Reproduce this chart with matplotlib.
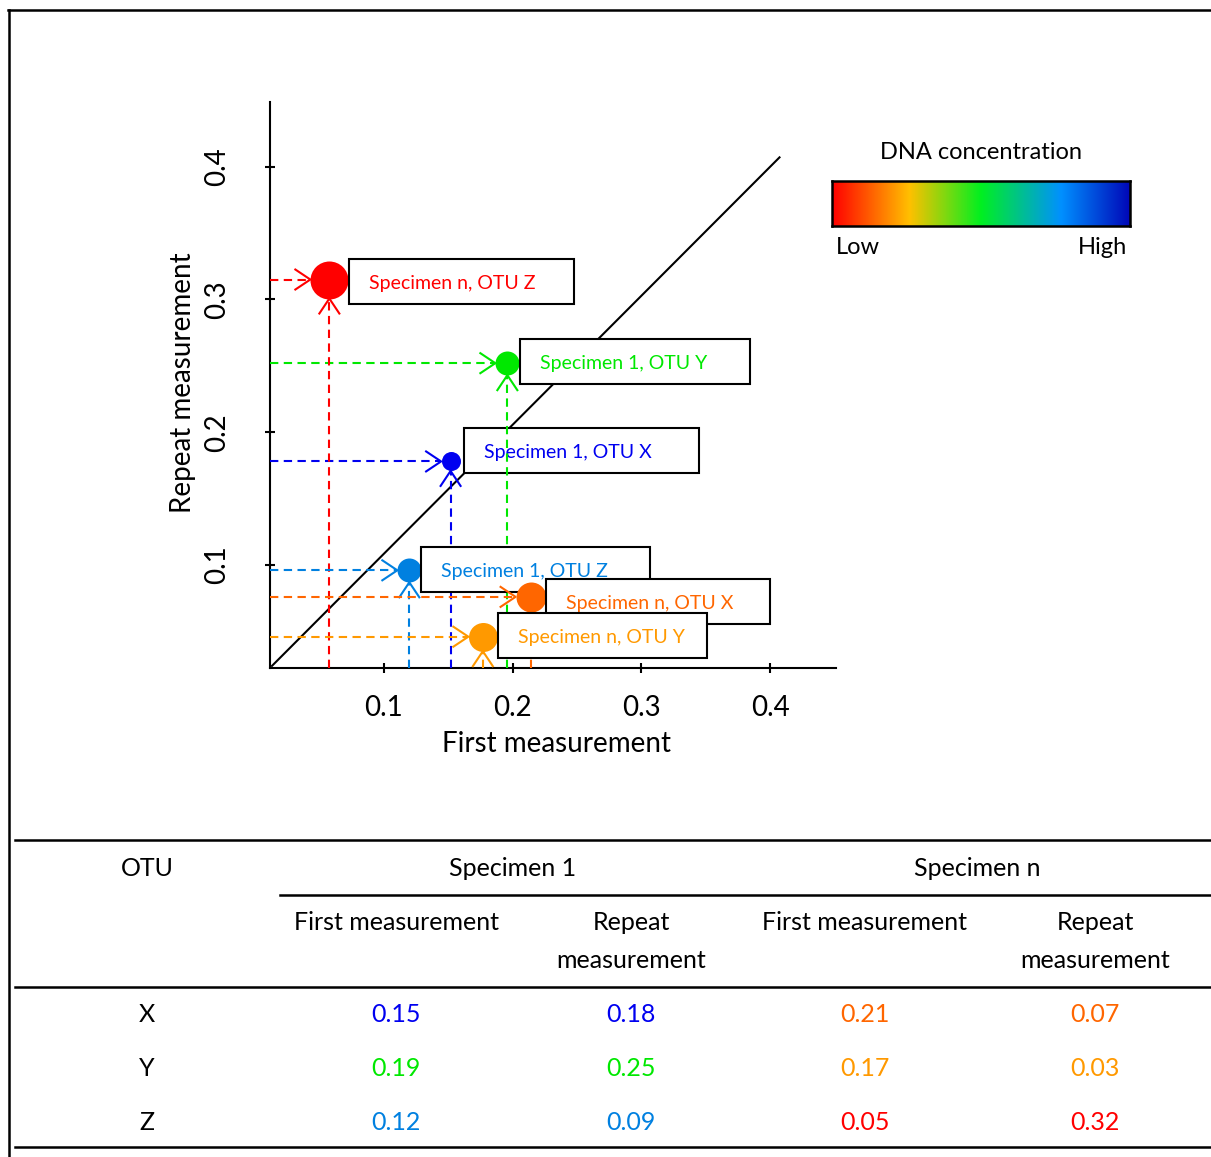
import matplotlib
matplotlib.use('Agg')
import matplotlib.pyplot as plt
import numpy as np
from matplotlib.colors import LinearSegmentedColormap
from matplotlib.lines import Line2D
from matplotlib.patches import Rectangle

plt.rcParams['font.family'] = ['Lato', 'DejaVu Sans']

# table values
otus = ['X', 'Y', 'Z']
spec1_first = [0.15, 0.19, 0.12]
spec1_repeat = [0.18, 0.25, 0.09]
specn_first = [0.21, 0.17, 0.05]
specn_repeat = [0.07, 0.03, 0.32]
spec1_colors = ['#0000F0', '#00E800', '#0080E0']
specn_colors = ['#FF6600', '#FF9900', '#FF0000']

# points as drawn in the schematic
pt_labels = ['Specimen 1, OTU X', 'Specimen 1, OTU Y', 'Specimen n, OTU Z',
             'Specimen 1, OTU Z', 'Specimen n, OTU X', 'Specimen n, OTU Y']
pt_first = [0.152, 0.196, 0.058, 0.120, 0.214, 0.177]
pt_repeat = [0.178, 0.252, 0.315, 0.096, 0.076, 0.046]
pt_colors = ['#0000F0', '#00E800', '#FF0000', '#0080E0', '#FF6600', '#FF9900']
pt_diam_px = [19, 24, 38, 24, 30, 29]

# 1:1 reference line ends
diag_x = [0.0135, 0.407]
diag_y = [0.0240, 0.407]

# label box layout (pixels)
box_dx = [13, 13, 20, 12, 15, 15]
box_dy = [11, 2, -2, 1, -4.5, 1.4]
box_w = [235, 230, 225, 229, 224, 209]
box_h = 45

W, H = 1211, 1157
fig = plt.figure(figsize=(W / 100, H / 100), dpi=100)

ax_l, ax_r, ax_t, ax_b = 269.5, 836, 102, 668.3
ax = fig.add_axes([ax_l / W, 1 - ax_b / H, (ax_r - ax_l) / W, (ax_b - ax_t) / H])
x0, x1 = 0.0116, 0.4508
y0, y1 = 0.0222, 0.4487
ax.set_xlim(x0, x1)
ax.set_ylim(y0, y1)
kx = (ax_r - ax_l) / (x1 - x0)
ky = (ax_b - ax_t) / (y1 - y0)

for s in ['top', 'right']:
    ax.spines[s].set_visible(False)
for s in ['left', 'bottom']:
    ax.spines[s].set_linewidth(1.5)

ticks = [0.1, 0.2, 0.3, 0.4]
ax.set_xticks(ticks)
ax.set_yticks(ticks)
ax.set_xticklabels([str(t) for t in ticks], fontsize=20)
ax.set_yticklabels([str(t) for t in ticks], fontsize=20, rotation=90, va='center')
ax.tick_params(axis='both', direction='inout', length=7, width=1.5)
ax.tick_params(axis='x', pad=16)
ax.tick_params(axis='y', pad=25)

ax.plot(diag_x, diag_y, color='black', lw=1.5, zorder=1)

for i in range(len(pt_first)):
    x, y, c = pt_first[i], pt_repeat[i], pt_colors[i]
    r = pt_diam_px[i] / 2
    z = 3 + i
    # horizontal dashed arrow from the y axis
    tx = x - r / kx
    ax.plot([x0, tx], [y, y], color=c, lw=1.5, dashes=(4, 2.6), zorder=z)
    ax.plot([tx - 15 / kx, tx, tx - 15 / kx], [y + 10 / ky, y, y - 10 / ky],
            color=c, lw=1.5, zorder=z)
    # vertical dashed arrow from the x axis
    ty = y - r / ky
    ax.plot([x, x], [y0, ty], color=c, lw=1.5, dashes=(4, 2.6), zorder=z)
    ax.plot([x - 10 / kx, x, x + 10 / kx], [ty - 15 / ky, ty, ty - 15 / ky],
            color=c, lw=1.5, zorder=z)
    ax.plot([x], [y], 'o', color=c, markersize=pt_diam_px[i] * 0.72,
            markeredgewidth=0, zorder=z + 0.1)
    bx = x + box_dx[i] / kx
    by = y + box_dy[i] / ky
    ax.add_patch(Rectangle((bx, by - box_h / 2 / ky), box_w[i] / kx, box_h / ky,
                           facecolor='white', edgecolor='black', lw=1.5,
                           zorder=z + 0.2, clip_on=False))
    ax.text(bx + 20 / kx, by - 2 / ky, pt_labels[i], color=c, fontsize=14,
            va='center', ha='left', zorder=z + 0.3)

fig.text(556 / W, 1 - 744 / H, 'First measurement', fontsize=20,
         ha='center', va='center')
fig.text(183 / W, 1 - 383 / H, 'Repeat measurement', fontsize=20,
         ha='center', va='center', rotation=90)

# colour scale
cmap = LinearSegmentedColormap.from_list('dna', [
    (0.0, '#FF0000'), (0.26, '#FFC000'), (0.5, '#00F020'),
    (0.77, '#0090FF'), (1.0, '#0008B8')])
cax = fig.add_axes([832 / W, 1 - 226 / H, 298 / W, 45 / H])
cax.imshow(np.linspace(0, 1, 256).reshape(1, -1), cmap=cmap, aspect='auto')
cax.set_xticks([])
cax.set_yticks([])
for s in cax.spines.values():
    s.set_linewidth(1.8)
fig.text(981 / W, 1 - 152 / H, 'DNA concentration', fontsize=17, ha='center', va='center')
fig.text(836 / W, 1 - 247 / H, 'Low', fontsize=17, ha='left', va='center')
fig.text(1127 / W, 1 - 247 / H, 'High', fontsize=17, ha='right', va='center')

# outer frame
fig.add_artist(Line2D([8 / W, 1], [1 - 10 / H, 1 - 10 / H], color='black', lw=1.8,
                      transform=fig.transFigure))
fig.add_artist(Line2D([9 / W, 9 / W], [0, 1 - 10 / H], color='black', lw=1.8,
                      transform=fig.transFigure))

# table rules
for yy, xa in [(840, 15), (895, 280), (987, 15), (1147, 15)]:
    fig.add_artist(Line2D([xa / W, 1], [1 - yy / H, 1 - yy / H], color='black',
                          lw=1.8, transform=fig.transFigure))

col_x = [396, 631, 865, 1095]
fs = 18
fig.text(147 / W, 1 - 868 / H, 'OTU', fontsize=fs, ha='center', va='center')
fig.text(513 / W, 1 - 868 / H, 'Specimen 1', fontsize=fs, ha='center', va='center')
fig.text(977 / W, 1 - 868 / H, 'Specimen n', fontsize=fs, ha='center', va='center')
for j, cx in enumerate(col_x):
    if j % 2 == 0:
        fig.text(cx / W, 1 - 923 / H, 'First measurement', fontsize=fs,
                 ha='center', va='center')
    else:
        fig.text(cx / W, 1 - 923 / H, 'Repeat', fontsize=fs, ha='center', va='center')
        fig.text(cx / W, 1 - 960 / H, 'measurement', fontsize=fs, ha='center', va='center')

row_y = [1015, 1068, 1122]
cols = [spec1_first, spec1_repeat, specn_first, specn_repeat]
for i, otu in enumerate(otus):
    fig.text(147 / W, 1 - row_y[i] / H, otu, fontsize=fs, ha='center', va='center')
    for j, vals in enumerate(cols):
        c = spec1_colors[i] if j < 2 else specn_colors[i]
        fig.text(col_x[j] / W, 1 - row_y[i] / H, f'{vals[i]:.2f}', fontsize=fs,
                 color=c, ha='center', va='center')

fig.savefig('out.png', dpi=100)
